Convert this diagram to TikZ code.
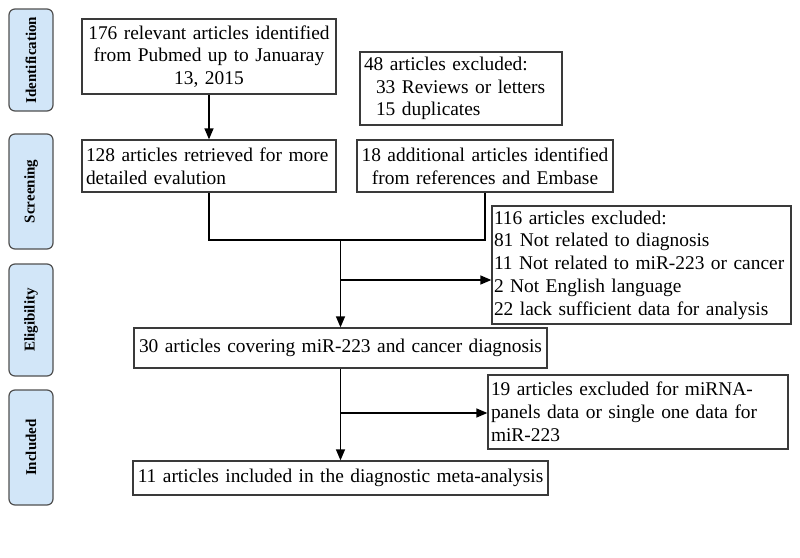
\documentclass[tikz,border=0pt]{standalone}
\usepackage{fontspec}
\setmainfont{Liberation Serif}
\usetikzlibrary{arrows.meta}
\definecolor{phaseblue}{HTML}{D2E6F8}
\definecolor{phasegray}{HTML}{505050}
\definecolor{boxgray}{HTML}{3A3A3A}
\begin{document}
\begin{tikzpicture}[x=1pt,y=-1pt,
  box/.style={draw=boxgray, line width=1.3pt, rectangle, inner xsep=4pt, inner ysep=2pt,
    font=\fontsize{19.4}{22.8}\selectfont},
  phase/.style={draw=phasegray, fill=phaseblue, rounded corners=6pt, line width=1.2pt,
    minimum height=44pt, inner sep=0pt, font=\bfseries\fontsize{15}{18}\selectfont, rotate=90},
  conn/.style={line width=1.4pt, draw=black},
  arr/.style={conn, -{Triangle[length=11pt,width=9pt]}}]
\useasboundingbox[fill=white] (0,0) rectangle (800,557);

% phase labels
\node[phase, minimum width=102pt] (pid) at (31,60) {Identification};
\node[phase, minimum width=115pt] (psc) at (31,191.5) {Screening};
\node[phase, minimum width=112pt] (pel) at (31,320) {Eligibility};
\node[phase, minimum width=115pt] (pin) at (31,447.5) {Included};

% boxes
\node[box, text width=246pt, minimum height=75pt, align=center] (b176) at (209,56.5)
  {176 relevant articles identified\\from Pubmed up to Januaray\\13, 2015};
\node[box, text width=194pt, minimum height=73pt, align=left] (b48) at (461,88.5)
  {48 articles excluded:\\\hspace*{12pt}33 Reviews or letters\\\hspace*{12pt}15 duplicates};
\node[box, text width=246pt, minimum height=52pt, align=left] (b128) at (209,166)
  {128 articles retrieved for more\\detailed evalution};
\node[box, text width=248pt, minimum height=52pt, align=center] (b18) at (485,166)
  {18 additional articles identified\\from references and Embase};
\node[box, inner xsep=2pt, text width=295pt, minimum height=118pt, align=left] (b116) at (641.5,265)
  {116 articles excluded:\\81 Not related to diagnosis\\11 Not related to miR-223 or cancer\\2 Not English language\\22 lack sufficient data for analysis};
\node[box, text width=405pt, minimum height=40pt, align=center] (b30) at (340.5,348)
  {30 articles covering miR-223 and cancer diagnosis};
\node[box, inner xsep=3pt, text width=294pt, minimum height=74pt, align=left] (b19) at (638,412)
  {19 articles excluded for miRNA-\\panels data or single one data for\\miR-223};
\node[box, text width=407pt, minimum height=34pt, align=center] (b11) at (340.5,478)
  {11 articles included in the diagnostic meta-analysis};

% connectors
\coordinate (j) at (340.5,240);
\coordinate (k) at (340.5,280);
\coordinate (m) at (340.5,413);
\draw[arr] (b176.south) -- (b128.north);
\draw[conn] (b128.south) |- (j);
\draw[conn] (b18.south) |- (j);
\draw[arr] (j) -- (b30.north);
\draw[arr] (k) -- (k -| b116.west);
\draw[arr] (b30.south) -- (b11.north);
\draw[arr] (m) -- (m -| b19.west);
\end{tikzpicture}
\end{document}
